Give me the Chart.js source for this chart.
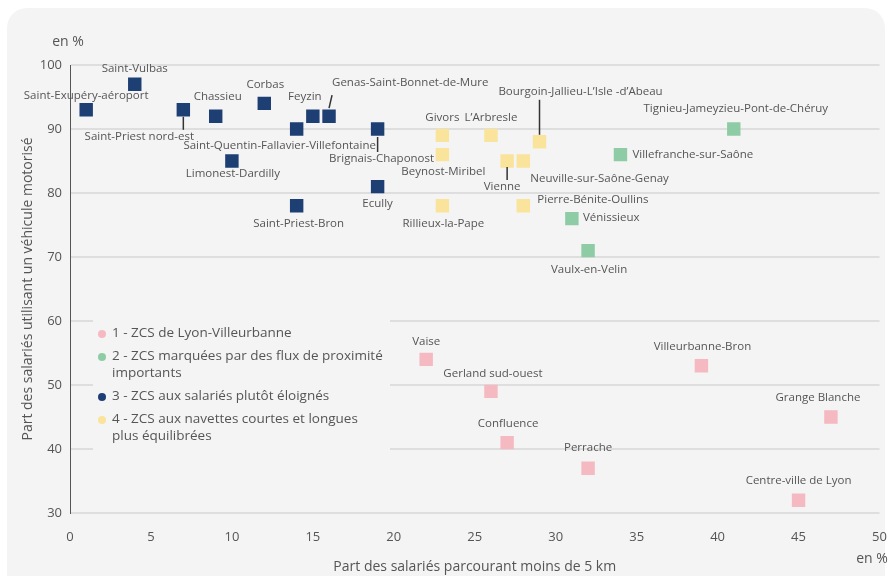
<!DOCTYPE html>
<html>
<head>
<meta charset="utf-8">
<script src="https://cdn.jsdelivr.net/npm/chart.js@4/dist/chart.umd.min.js"></script>
<style>
  body { margin: 0; background: #fff; }
  #panel { position: absolute; left: 7px; top: 8px; width: 878px; height: 600px; border-radius: 20px; background: #f4f4f4; }
  #wrap { position: absolute; left: 0; top: 0; width: 889px; height: 576px; }
</style>
</head>
<body>
<div id="panel"></div>
<div id="wrap"><canvas id="myChart" width="889" height="576"></canvas></div>
<script>
// legend names (split where the reference wraps them)
const seriesLabels = [
  ['1 - ZCS de Lyon-Villeurbanne'],
  ['2 - ZCS marquées par des flux de proximité', 'importants'],
  ['3 - ZCS aux salariés plutôt éloignés'],
  ['4 - ZCS aux navettes courtes et longues', 'plus équilibrées']
]

// 1 - Lyon-Villeurbanne
const lyonNames = ['Vaise', 'Gerland sud-ouest', 'Confluence', 'Perrache', 'Villeurbanne-Bron', 'Grange Blanche', 'Centre-ville de Lyon']
const lyonX = [22, 26, 27, 32, 39, 47, 45]
const lyonY = [54, 49, 41, 37, 53, 45, 32]

// 2 - flux de proximité
const proxNames = ['Tignieu-Jameyzieu-Pont-de-Chéruy', 'Villefranche-sur-Saône', 'Vénissieux', 'Vaulx-en-Velin']
const proxX = [41, 34, 31, 32]
const proxY = [90, 86, 76, 71]

// 3 - salariés éloignés
const farNames = ['Saint-Exupéry-aéroport', 'Saint-Vulbas', 'Saint-Priest nord-est', 'Chassieu', 'Corbas', 'Feyzin',
  'Genas-Saint-Bonnet-de-Mure', 'Saint-Quentin-Fallavier-Villefontaine', 'Brignais-Chaponost', 'Limonest-Dardilly',
  'Saint-Priest-Bron', 'Ecully']
const farX = [1, 4, 7, 9, 12, 15, 16, 14, 19, 10, 14, 19]
const farY = [93, 97, 93, 92, 94, 92, 92, 90, 90, 85, 78, 81]

// 4 - navettes équilibrées
const mixNames = ['Givors', 'L’Arbresle', 'Bourgoin-Jallieu-L’Isle -d’Abeau', 'Beynost-Miribel', 'Vienne',
  'Neuville-sur-Saône-Genay', 'Rillieux-la-Pape', 'Pierre-Bénite-Oullins']
const mixX = [23, 26, 29, 23, 27, 28, 23, 28]
const mixY = [89, 89, 88, 86, 85, 85, 78, 78]

const colors = ['#f5b9c1', '#8ecca6', '#1e3f74', '#fae39b']

// label placement : [dx, dy, align] in px from the marker
const labelPos = {
  'Saint-Exupéry-aéroport': [0, -14, 'center'],
  'Saint-Vulbas': [0, -15, 'center'],
  'Saint-Priest nord-est': [-44, 27, 'center'],
  'Chassieu': [2, -19, 'center'],
  'Corbas': [1, -19, 'center'],
  'Feyzin': [-8, -19, 'center'],
  'Genas-Saint-Bonnet-de-Mure': [3, -33, 'left'],
  'Saint-Quentin-Fallavier-Villefontaine': [-17, 17, 'center'],
  'Brignais-Chaponost': [4, 30, 'center'],
  'Limonest-Dardilly': [1, 13, 'center'],
  'Saint-Priest-Bron': [2, 18, 'center'],
  'Ecully': [0, 17, 'center'],
  'Givors': [0, -18, 'center'],
  'L’Arbresle': [0, -18, 'center'],
  'Bourgoin-Jallieu-L’Isle -d’Abeau': [41, -50, 'center'],
  'Beynost-Miribel': [1, 17, 'center'],
  'Vienne': [-5, 26, 'center'],
  'Neuville-sur-Saône-Genay': [7, 18, 'left'],
  'Rillieux-la-Pape': [1, 18, 'center'],
  'Pierre-Bénite-Oullins': [14, -6, 'left'],
  'Tignieu-Jameyzieu-Pont-de-Chéruy': [2, -20, 'center'],
  'Villefranche-sur-Saône': [12, 0, 'left'],
  'Vénissieux': [11, -1, 'left'],
  'Vaulx-en-Velin': [1, 19, 'center'],
  'Vaise': [0, -18, 'center'],
  'Gerland sud-ouest': [2, -18, 'center'],
  'Confluence': [1, -19, 'center'],
  'Perrache': [0, -20, 'center'],
  'Villeurbanne-Bron': [1, -19, 'center'],
  'Grange Blanche': [-13, -19, 'center'],
  'Centre-ville de Lyon': [0, -19, 'center']
}
// leader lines : [x1, y1, x2, y2] relative to the marker
const leaders = {
  'Saint-Priest nord-est': [0, 7, 0, 20],
  'Genas-Saint-Bonnet-de-Mure': [0, -8, 3, -21],
  'Brignais-Chaponost': [0, 8, 0, 23],
  'Bourgoin-Jallieu-L’Isle -d’Abeau': [0, -7, 0, -42],
  'Vienne': [0, 6, 0, 19]
}

const toPoints = (xs, ys) => xs.map((x, i) => ({ x: x, y: ys[i] }))
const groups = [
  [lyonNames, lyonX, lyonY],
  [proxNames, proxX, proxY],
  [farNames, farX, farY],
  [mixNames, mixX, mixY]
]

const datasets = groups.map((g, i) => ({
  label: seriesLabels[i].join(' '),
  names: g[0],
  data: toPoints(g[1], g[2]),
  pointStyle: 'rect',
  pointRadius: 9.5,
  pointHoverRadius: 9.5,
  backgroundColor: colors[i],
  borderWidth: 0
}))

const textColor = '#555'
const font = 'Open Sans, sans-serif'

const legendBox = {
  id: 'legendBox',
  beforeDatasetsDraw(chart) {
    const ctx = chart.ctx
    ctx.save()
    ctx.fillStyle = '#f4f4f4'
    ctx.fillRect(93, 300, 297, 160)
    ctx.font = '13.5px ' + font
    ctx.textBaseline = 'middle'
    ctx.textAlign = 'left'
    let y = 333
    seriesLabels.forEach((lines, i) => {
      ctx.fillStyle = colors[i]
      ctx.beginPath()
      ctx.arc(102, y + 1, 4, 0, Math.PI * 2)
      ctx.fill()
      ctx.fillStyle = textColor
      lines.forEach((l, j) => ctx.fillText(l, 112, y + j * 17))
      y += 23 + (lines.length - 1) * 17
    })
    ctx.restore()
  }
}

const pointLabels = {
  id: 'pointLabels',
  afterDatasetsDraw(chart) {
    const ctx = chart.ctx
    ctx.save()
    ctx.font = '11.5px ' + font
    ctx.textBaseline = 'middle'
    chart.data.datasets.forEach((ds, di) => {
      const meta = chart.getDatasetMeta(di)
      meta.data.forEach((pt, k) => {
        const name = ds.names[k]
        const lead = leaders[name]
        if (lead) {
          ctx.strokeStyle = '#333'
          ctx.lineWidth = 1.5
          ctx.beginPath()
          ctx.moveTo(pt.x + lead[0], pt.y + lead[1])
          ctx.lineTo(pt.x + lead[2], pt.y + lead[3])
          ctx.stroke()
        }
        const p = labelPos[name] || [0, -18, 'center']
        ctx.fillStyle = textColor
        ctx.textAlign = p[2]
        ctx.fillText(name, pt.x + p[0], pt.y + p[1])
      })
    })

    // axis titles and units
    const area = chart.chartArea
    ctx.font = '14px ' + font
    ctx.textAlign = 'center'
    ctx.fillText('en %', 68, 42)
    ctx.fillText('en %', 872, 559)
    ctx.fillText('Part des salariés parcourant moins de 5 km', (area.left + area.right) / 2, 567)
    ctx.translate(28, (area.top + area.bottom) / 2)
    ctx.rotate(-Math.PI / 2)
    ctx.fillText('Part des salariés utilisant un véhicule motorisé', 0, 0)
    ctx.restore()
  }
}

new Chart('myChart', {
  type: 'scatter',
  data: { datasets: datasets },
  options: {
    responsive: false,
    animation: false,
    events: [],
    layout: { padding: { top: 65, right: 8, left: 0, bottom: 0 } },
    plugins: {
      legend: { display: false },
      tooltip: { enabled: false }
    },
    scales: {
      x: {
        min: 0, max: 50,
        ticks: { stepSize: 5, padding: 16, color: textColor, font: { family: font, size: 13 } },
        grid: { display: false, drawTicks: false },
        border: { display: false },
        afterFit(s) { s.height = 63; s.paddingLeft = 0; s.paddingRight = 0 }
      },
      y: {
        min: 30, max: 100,
        ticks: { stepSize: 10, padding: 8, color: textColor, font: { family: font, size: 13 } },
        grid: { color: '#dedede', lineWidth: 2, drawTicks: false },
        border: { color: '#555', width: 1 },
        afterFit(s) { s.width = 70; s.paddingTop = 0; s.paddingBottom = 0 }
      }
    }
  },
  plugins: [legendBox, pointLabels]
})
</script>
</body>
</html>
